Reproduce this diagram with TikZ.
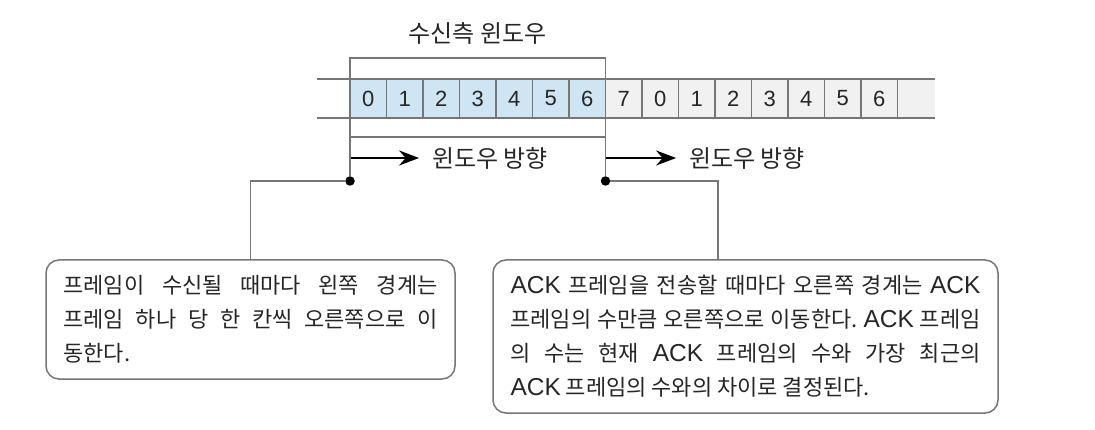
\documentclass[tikz,border=0pt]{standalone}
\usepackage{fontspec}
\setmainfont{Noto Sans CJK KR}
\newfontfamily\kr{Noto Sans CJK KR}
\newfontfamily\lat{Liberation Sans}
\usetikzlibrary{arrows.meta}
\definecolor{winblue}{RGB}{207,229,243}
\definecolor{restgray}{RGB}{241,241,241}
\definecolor{linegray}{RGB}{118,118,118}
\newcommand{\ackword}{{\fontsize{24.5}{34}\selectfont\lat ACK}}
\tolerance=10000
\hbadness=10000
\frenchspacing

\begin{document}
\begin{tikzpicture}
[x=1pt, y=-1pt,
 every node/.style={inner sep=0pt, outer sep=0pt, text=black!85},
 cell/.style={draw=linegray, line width=1.1pt, minimum width=36.5pt, minimum height=39pt, font=\fontsize{22}{22}\selectfont\lat},
 stripline/.style={draw=linegray, line width=1.1pt},
 caption/.style={font=\fontsize{24}{24}\selectfont\kr},
 dirarrow/.style={line width=2pt, -{Stealth[length=20pt, width=15pt]}, shorten >=13pt},
 dot/.style={circle, fill=black, minimum size=9.5pt},
 callline/.style={draw=linegray, line width=1.3pt},
 notebox/.style={draw=linegray, line width=1.5pt, rounded corners=13pt, fill=white, align=justify, font=\fontsize{22}{34}\selectfont\kr\frenchspacing}]
\path[use as bounding box, fill=white] (0,0) rectangle (1095,430);

% Define the receive window cells
\node[cell, fill=winblue] (c0) at (368.25,98.5) {0};
\node[cell, fill=winblue] (c1) at (404.75,98.5) {1};
\node[cell, fill=winblue] (c2) at (441.25,98.5) {2};
\node[cell, fill=winblue] (c3) at (477.75,98.5) {3};
\node[cell, fill=winblue] (c4) at (514.25,98.5) {4};
\node[cell, fill=winblue] (c5) at (550.75,98.5) {5};
\node[cell, fill=winblue] (c6) at (587.25,98.5) {6};

% Define the remaining sequence numbers
\node[cell, fill=restgray] (c7) at (623.75,98.5) {7};
\node[cell, fill=restgray] (c8) at (660.25,98.5) {0};
\node[cell, fill=restgray] (c9) at (696.75,98.5) {1};
\node[cell, fill=restgray] (c10) at (733.25,98.5) {2};
\node[cell, fill=restgray] (c11) at (769.75,98.5) {3};
\node[cell, fill=restgray] (c12) at (806.25,98.5) {4};
\node[cell, fill=restgray] (c13) at (842.75,98.5) {5};
\node[cell, fill=restgray] (c14) at (879.25,98.5) {6};
\node[fill=restgray, minimum width=37.5pt, minimum height=39pt] (c15) at (916.25,98.5) {};

\coordinate (stripTL) at (317,79);
\coordinate (stripBL) at (317,118);
\draw[stripline] (stripTL) -- (c15.north east);
\draw[stripline] (stripBL) -- (c15.south east);

% Window frame and title
\node[draw=linegray, line width=1.1pt, minimum width=255.5pt, minimum height=79pt] (win) at (477.75,97.5) {};
\node[caption] (title) at (477.75,33) {수신측 윈도우};

% Direction arrows
\coordinate (arL) at (350,158);
\coordinate (arR) at (605.5,158);
\node[caption] (dirL) at (490,158) {윈도우 방향};
\node[caption] (dirR) at (747,158) {윈도우 방향};
\draw[dirarrow] (arL) -- (dirL.west);
\draw[dirarrow] (arR) -- (dirR.west);

% Notes
\node[notebox, minimum width=409pt, minimum height=119pt, text width=374pt] (boxL) at (250.5,319.5)
  {프레임이 수신될 때마다 왼쪽 경계는\linebreak 프레임 하나 당 한 칸씩 오른쪽으로 이\linebreak 동한다.};
\node[notebox, minimum width=505pt, minimum height=153pt, text width=470pt] (boxR) at (745.5,336.5)
  {\ackword{} 프레임을 전송할 때마다 오른쪽 경계는 \ackword\linebreak 프레임의 수만큼 오른쪽으로 이동한다. \ackword{} 프레임\linebreak 의 수는 현재 \ackword{} 프레임의 수와 가장 최근의\linebreak \ackword{} 프레임의 수와의 차이로 결정된다.};
\coordinate (pinR) at ([xshift=-27.5pt]boxR.north);

\node[dot] (dotL) at (350,181) {};
\node[dot] (dotR) at (605.5,181) {};

\draw[callline] (win.south west) -- (dotL);
\draw[callline] (win.south east) -- (dotR);
\draw[callline] (dotL) -| (boxL.north);
\draw[callline] (dotR) -| (pinR);
\end{tikzpicture}
\end{document}
